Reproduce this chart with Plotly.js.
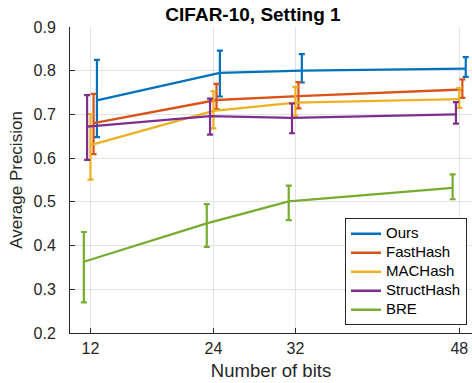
<!DOCTYPE html>
<html>
<head>
<meta charset="utf-8">
<script src="https://cdn.plot.ly/plotly-3.0.1.min.js"></script>
<style>html,body{margin:0;padding:0;background:#fff;}#chart{width:472px;height:383px;}</style>
</head>
<body>
<div id="chart"></div>
<script>
// Data
var bits = [12, 24, 32, 48];
var tickLabels = ['12', '24', '32', '48'];
var seriesNames = ['Ours', 'FastHash', 'MACHash', 'StructHash', 'BRE'];

var oursMean  = [0.732, 0.795, 0.800, 0.805];
var oursUpper = [0.825, 0.846, 0.838, 0.831];
var oursLower = [0.648, 0.741, 0.773, 0.786];

var fastMean  = [0.680, 0.733, 0.742, 0.757];
var fastUpper = [0.747, 0.770, 0.774, 0.780];
var fastLower = [0.609, 0.712, 0.714, 0.738];

var macMean  = [0.630, 0.708, 0.727, 0.735];
var macUpper = [0.701, 0.753, 0.763, 0.760];
var macLower = [0.551, 0.668, 0.697, 0.715];

var structMean  = [0.672, 0.696, 0.692, 0.700];
var structUpper = [0.744, 0.736, 0.725, 0.728];
var structLower = [0.596, 0.654, 0.657, 0.679];

var breMean  = [0.363, 0.451, 0.501, 0.532];
var breUpper = [0.431, 0.495, 0.537, 0.563];
var breLower = [0.270, 0.397, 0.458, 0.506];

// styling / placement (not data)
var colors = ['#0072BD', '#D95319', '#EDB120', '#7E2F8E', '#77AC30'];
var offsets = [0.63, 0.3, 0, -0.33, -0.65];

var means = [oursMean, fastMean, macMean, structMean, breMean];
var uppers = [oursUpper, fastUpper, macUpper, structUpper, breUpper];
var lowers = [oursLower, fastLower, macLower, structLower, breLower];

var traces = seriesNames.map(function (name, i) {
  var m = means[i];
  return {
    type: 'scatter',
    mode: 'lines',
    name: '<span style="font-size:15px">' + name + '</span>',
    x: bits.map(function (b) { return b + offsets[i]; }),
    y: m,
    line: { color: colors[i], width: 2.3 },
    error_y: {
      type: 'data',
      symmetric: false,
      array: uppers[i].map(function (u, k) { return u - m[k]; }),
      arrayminus: lowers[i].map(function (l, k) { return m[k] - l; }),
      color: colors[i],
      thickness: 2.2,
      width: 3
    }
  };
});

var fontFam = '"Liberation Sans", Arial, Helvetica, sans-serif';
var axColor = '#262626';

var layout = {
  width: 472,
  height: 383,
  autosize: false,
  margin: { l: 70, r: 0, t: 27, b: 50, pad: 0 },
  paper_bgcolor: '#ffffff',
  plot_bgcolor: '#ffffff',
  font: { family: fontFam, color: axColor },
  title: {
    text: '<b>CIFAR-10, Setting 1</b>',
    font: { family: fontFam, size: 19, color: '#000000' },
    xref: 'container', x: 0.536, xanchor: 'center',
    yref: 'container', y: 0.962, yanchor: 'middle'
  },
  xaxis: {
    range: [10, 49.24],
    tickmode: 'array',
    tickvals: bits,
    ticktext: tickLabels,
    showgrid: true,
    gridcolor: '#e3e3e3',
    gridwidth: 1,
    zeroline: false,
    showline: true,
    linecolor: axColor,
    linewidth: 1,
    ticks: 'inside',
    ticklen: 5,
    tickcolor: axColor,
    ticklabelstandoff: 1,
    tickfont: { family: fontFam, size: 16, color: axColor },
    title: { text: 'Number of bits', font: { family: fontFam, size: 18.5, color: axColor }, standoff: 7 }
  },
  yaxis: {
    range: [0.2, 0.9],
    tick0: 0.2,
    dtick: 0.1,
    tickformat: '.1f',
    showgrid: true,
    gridcolor: '#e3e3e3',
    gridwidth: 1,
    zeroline: false,
    showline: true,
    linecolor: axColor,
    linewidth: 1,
    ticks: 'inside',
    ticklen: 5,
    tickcolor: axColor,
    ticklabelstandoff: 10,
    tickfont: { family: fontFam, size: 16, color: axColor },
    title: { text: 'Average Precision', font: { family: fontFam, size: 17, color: axColor }, standoff: 6 }
  },
  legend: {
    x: 0.9876, xanchor: 'right',
    y: 0.375, yanchor: 'top',
    bgcolor: '#ffffff',
    bordercolor: '#262626',
    borderwidth: 1,
    font: { family: fontFam, size: 12, color: '#000000' },
    tracegroupgap: 0
  },
  showlegend: true
};

Plotly.newPlot('chart', traces, layout, { displayModeBar: false, staticPlot: true });
</script>
</body>
</html>
